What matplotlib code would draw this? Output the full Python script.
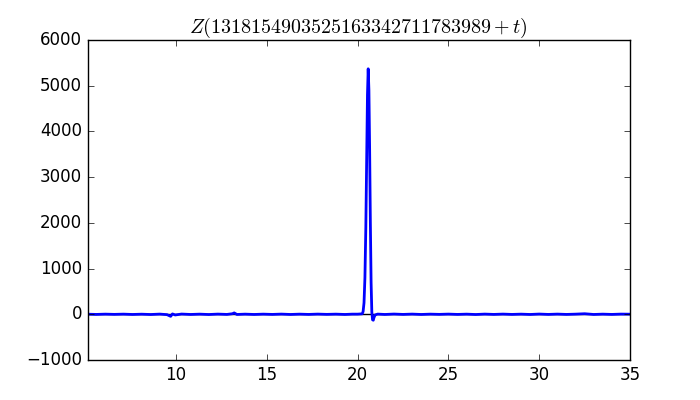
import matplotlib
matplotlib.use('Agg')
import matplotlib.pyplot as plt

plt.style.use('classic')

t = [5.12, 5.6, 6.1, 6.6, 7.1, 7.6, 8.1, 8.6, 9.1, 9.5, 9.7, 9.8, 9.95, 10.3, 10.8,
     11.3, 11.8, 12.3, 12.8, 13.1, 13.2, 13.35, 13.8, 14.3, 14.8, 15.3, 15.8, 16.3,
     16.8, 17.3, 17.8, 18.3, 18.8, 19.3, 19.7, 20.0, 20.25, 20.3, 20.35, 20.4, 20.45,
     20.5, 20.54, 20.58, 20.62, 20.66, 20.7, 20.74, 20.78, 20.82, 20.86, 20.9, 20.96,
     21.1, 21.5, 22.0, 22.5, 23.0, 23.5, 24.0, 24.5, 25.0, 25.5, 26.0, 26.5, 27.0,
     27.5, 28.0, 28.5, 29.0, 29.5, 30.0, 30.5, 31.0, 31.5, 32.0, 32.5, 33.0, 33.5,
     34.0, 34.5, 35.0]
z = [2, -3, 3, -2, 3, -4, 2, -5, 4, -8, -45, 8, -15, 5, -4,
     3, -5, 4, -3, 12, 30, -4, 3, -4, 3, -3, 4, -4,
     3, -3, 4, -2, 3, -4, 3, 3, 10, 60, 250, 800, 1900,
     3500, 4800, 5370, 4900, 3600, 2000, 700, 50, -120, -130, -70, -15,
     4, -4, 5, -3, 4, -4, 3, -2, 4, -3, 3, -5, 4,
     -3, 4, -3, 3, -4, 5, -3, 4, -3, 3, 12, -4, 3,
     -3, 4, 2]

fig = plt.figure(figsize=(7, 4), dpi=100)
ax = fig.add_subplot(111)
ax.axhline(0, color='k', linewidth=1)
ax.plot(t, z, 'b-', linewidth=2)
ax.set_xlim(5.12, 35)
ax.set_ylim(-1000, 6000)
ax.set_title(r'$Z(1318154903525163342711783989+t)$')

fig.savefig('out.png', dpi=100)
